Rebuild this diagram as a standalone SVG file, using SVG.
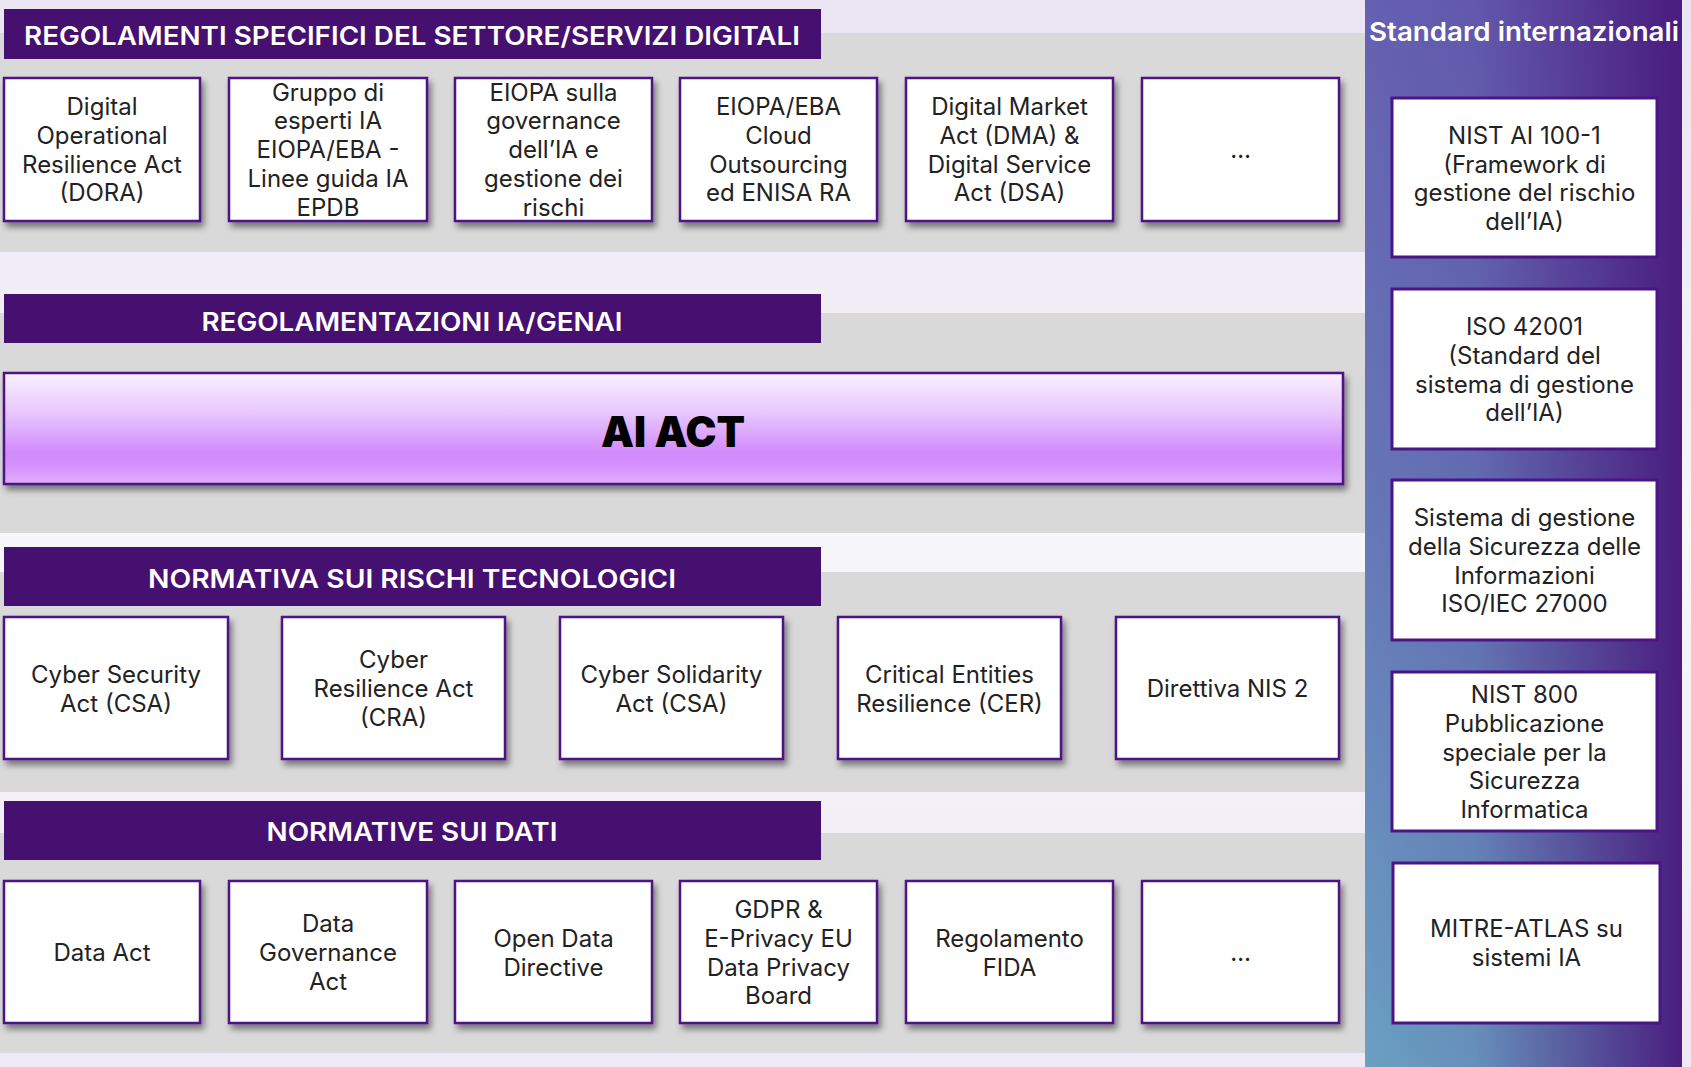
<svg xmlns="http://www.w3.org/2000/svg" width="1691" height="1067" viewBox="0 0 1691 1067">
<defs>
  <linearGradient id="bg" x1="0" y1="0" x2="0" y2="1">
    <stop offset="0" stop-color="#ebe4f3"/>
    <stop offset="0.5" stop-color="#f7f6f9"/>
    <stop offset="1" stop-color="#efe9f5"/>
  </linearGradient>
  <linearGradient id="panelV" x1="0" y1="0" x2="0" y2="1">
    <stop offset="0" stop-color="#6560b2"/>
    <stop offset="0.5" stop-color="#6678b8"/>
    <stop offset="1" stop-color="#6aa0c2"/>
  </linearGradient>
  <linearGradient id="panelH" x1="0" y1="0" x2="1" y2="0">
    <stop offset="0" stop-color="#48187c" stop-opacity="0"/>
    <stop offset="0.35" stop-color="#48187c" stop-opacity="0.12"/>
    <stop offset="1" stop-color="#48187c" stop-opacity="0.95"/>
  </linearGradient>
  <linearGradient id="aiact" x1="0" y1="0" x2="0" y2="1">
    <stop offset="0" stop-color="#faf0ff"/>
    <stop offset="0.35" stop-color="#e8c8fd"/>
    <stop offset="0.72" stop-color="#d28afc"/>
    <stop offset="0.84" stop-color="#d592fc"/>
    <stop offset="1" stop-color="#e2adfd"/>
  </linearGradient>
  <filter id="shadow" x="-10%" y="-10%" width="125%" height="130%">
    <feDropShadow dx="3" dy="5" stdDeviation="3" flood-color="#000" flood-opacity="0.45"/>
  </filter>
  <style>
    .band { fill: #d9d9d9; }
    .hdr { fill: #45106f; }
    .hdrtxt { font-family: Inter, "Liberation Sans", sans-serif; font-weight: 600; font-size: 25px; fill: #ffffff; text-anchor: middle; }
    .box { fill: #ffffff; stroke: #4b1583; stroke-width: 2.5; filter: url(#shadow); }
    .sbox { fill: #ffffff; stroke: #4b1583; stroke-width: 3; }
    .t { font-family: Inter, "Liberation Sans", sans-serif; font-size: 24px; fill: #222222; text-anchor: middle; transform: translateY(1px); }
  </style>
</defs>

<rect x="0" y="0" width="1691" height="1067" fill="url(#bg)"/>

<!-- gray bands -->
<rect class="band" x="0" y="33" width="1365" height="219"/>
<rect class="band" x="0" y="313" width="1365" height="220"/>
<rect class="band" x="0" y="572" width="1365" height="220"/>
<rect class="band" x="0" y="833" width="1365" height="220"/>

<!-- right panel -->
<g id="panel">
  <rect x="1365" y="0" width="317" height="1067" fill="url(#panelV)"/>
  <rect x="1365" y="0" width="317" height="1067" fill="url(#panelH)"/>
  <text x="1369" y="41" font-family="Inter, 'Liberation Sans', sans-serif" font-weight="600" font-size="26" fill="#ffffff" textLength="310" lengthAdjust="spacingAndGlyphs">Standard internazionali</text>
</g>

<!-- headers -->
<g id="hdr1">
  <rect class="hdr" x="4" y="9" width="817" height="50"/>
  <text class="hdrtxt" x="412" y="45" textLength="776" lengthAdjust="spacingAndGlyphs">REGOLAMENTI SPECIFICI DEL SETTORE/SERVIZI DIGITALI</text>
</g>
<g id="hdr2">
  <rect class="hdr" x="4" y="294" width="817" height="49"/>
  <text class="hdrtxt" x="412" y="331" textLength="421" lengthAdjust="spacingAndGlyphs">REGOLAMENTAZIONI IA/GENAI</text>
</g>
<g id="hdr3">
  <rect class="hdr" x="4" y="547" width="817" height="59"/>
  <text class="hdrtxt" x="412" y="588" textLength="528" lengthAdjust="spacingAndGlyphs">NORMATIVA SUI RISCHI TECNOLOGICI</text>
</g>
<g id="hdr4">
  <rect class="hdr" x="4" y="801" width="817" height="59"/>
  <text class="hdrtxt" x="412" y="841" textLength="291" lengthAdjust="spacingAndGlyphs">NORMATIVE SUI DATI</text>
</g>

<!-- row 1 -->
<g id="dora">
  <rect class="box" x="4" y="78" width="196" height="143"/>
  <text class="t" x="102"><tspan x="102" y="114">Digital</tspan><tspan x="102" y="143">Operational</tspan><tspan x="102" y="172">Resilience Act</tspan><tspan x="102" y="200">(DORA)</tspan></text>
</g>
<g id="gruppo">
  <rect class="box" x="229" y="78" width="198" height="143"/>
  <text class="t" x="328"><tspan x="328" y="100">Gruppo di</tspan><tspan x="328" y="128">esperti IA</tspan><tspan x="328" y="157">EIOPA/EBA -</tspan><tspan x="328" y="186">Linee guida IA</tspan><tspan x="328" y="215">EPDB</tspan></text>
</g>
<g id="eiopa">
  <rect class="box" x="455" y="78" width="197" height="143"/>
  <text class="t" x="553.5"><tspan x="553.5" y="100">EIOPA sulla</tspan><tspan x="553.5" y="128">governance</tspan><tspan x="553.5" y="157">dell’IA e</tspan><tspan x="553.5" y="186">gestione dei</tspan><tspan x="553.5" y="215">rischi</tspan></text>
</g>
<g id="cloud">
  <rect class="box" x="680" y="78" width="197" height="143"/>
  <text class="t" x="778.5"><tspan x="778.5" y="114">EIOPA/EBA</tspan><tspan x="778.5" y="143">Cloud</tspan><tspan x="778.5" y="172">Outsourcing</tspan><tspan x="778.5" y="200">ed ENISA RA</tspan></text>
</g>
<g id="dma">
  <rect class="box" x="906" y="78" width="207" height="143"/>
  <text class="t" x="1009.5"><tspan x="1009.5" y="114">Digital Market</tspan><tspan x="1009.5" y="143">Act (DMA) &amp;</tspan><tspan x="1009.5" y="172">Digital Service</tspan><tspan x="1009.5" y="200">Act (DSA)</tspan></text>
</g>
<g id="more1">
  <rect class="box" x="1142" y="78" width="197" height="143"/>
  <text class="t" x="1240.5" y="157">…</text>
</g>

<!-- AI ACT -->
<g id="aiact-node">
  <rect x="4" y="373" width="1339" height="111" fill="url(#aiact)" stroke="#4b1583" stroke-width="2.5" filter="url(#shadow)"/>
  <text x="673" y="447" font-family="Inter, 'Liberation Sans', sans-serif" font-weight="900" font-size="42" fill="#000000" text-anchor="middle" textLength="144" lengthAdjust="spacingAndGlyphs">AI ACT</text>
</g>

<!-- row 3 -->
<g id="csa">
  <rect class="box" x="4" y="617" width="224" height="142"/>
  <text class="t" x="116"><tspan x="116" y="682">Cyber Security</tspan><tspan x="116" y="711">Act (CSA)</tspan></text>
</g>
<g id="cra">
  <rect class="box" x="282" y="617" width="223" height="142"/>
  <text class="t" x="393.5"><tspan x="393.5" y="667">Cyber</tspan><tspan x="393.5" y="696">Resilience Act</tspan><tspan x="393.5" y="725">(CRA)</tspan></text>
</g>
<g id="csolid">
  <rect class="box" x="560" y="617" width="223" height="142"/>
  <text class="t" x="671.5"><tspan x="671.5" y="682">Cyber Solidarity</tspan><tspan x="671.5" y="711">Act (CSA)</tspan></text>
</g>
<g id="cer">
  <rect class="box" x="838" y="617" width="223" height="142"/>
  <text class="t" x="949.5"><tspan x="949.5" y="682">Critical Entities</tspan><tspan x="949.5" y="711">Resilience (CER)</tspan></text>
</g>
<g id="nis2">
  <rect class="box" x="1116" y="617" width="223" height="142"/>
  <text class="t" x="1227.5" y="696">Direttiva NIS 2</text>
</g>

<!-- row 4 -->
<g id="dataact">
  <rect class="box" x="4" y="881" width="196" height="142"/>
  <text class="t" x="102" y="960">Data Act</text>
</g>
<g id="dga">
  <rect class="box" x="229" y="881" width="198" height="142"/>
  <text class="t" x="328"><tspan x="328" y="931">Data</tspan><tspan x="328" y="960">Governance</tspan><tspan x="328" y="989">Act</tspan></text>
</g>
<g id="opendata">
  <rect class="box" x="455" y="881" width="197" height="142"/>
  <text class="t" x="553.5"><tspan x="553.5" y="946">Open Data</tspan><tspan x="553.5" y="975">Directive</tspan></text>
</g>
<g id="gdpr">
  <rect class="box" x="680" y="881" width="197" height="142"/>
  <text class="t" x="778.5"><tspan x="778.5" y="917">GDPR &amp;</tspan><tspan x="778.5" y="946">E-Privacy EU</tspan><tspan x="778.5" y="975">Data Privacy</tspan><tspan x="778.5" y="1003">Board</tspan></text>
</g>
<g id="fida">
  <rect class="box" x="906" y="881" width="207" height="142"/>
  <text class="t" x="1009.5"><tspan x="1009.5" y="946">Regolamento</tspan><tspan x="1009.5" y="975">FIDA</tspan></text>
</g>
<g id="more2">
  <rect class="box" x="1142" y="881" width="197" height="142"/>
  <text class="t" x="1240.5" y="960">…</text>
</g>

<!-- standards -->
<g id="nistai">
  <rect class="sbox" x="1392" y="98" width="265" height="159"/>
  <text class="t" x="1524.5"><tspan x="1524.5" y="143">NIST AI 100-1</tspan><tspan x="1524.5" y="172">(Framework di</tspan><tspan x="1524.5" y="200">gestione del rischio</tspan><tspan x="1524.5" y="229">dell’IA)</tspan></text>
</g>
<g id="iso42001">
  <rect class="sbox" x="1392" y="289" width="265" height="160"/>
  <text class="t" x="1524.5"><tspan x="1524.5" y="334">ISO 42001</tspan><tspan x="1524.5" y="363">(Standard del</tspan><tspan x="1524.5" y="392">sistema di gestione</tspan><tspan x="1524.5" y="420">dell’IA)</tspan></text>
</g>
<g id="iso27000">
  <rect class="sbox" x="1392" y="480" width="265" height="160"/>
  <text class="t" x="1524.5"><tspan x="1524.5" y="525">Sistema di gestione</tspan><tspan x="1524.5" y="554">della Sicurezza delle</tspan><tspan x="1524.5" y="583">Informazioni</tspan><tspan x="1524.5" y="611">ISO/IEC 27000</tspan></text>
</g>
<g id="nist800">
  <rect class="sbox" x="1392" y="672" width="265" height="159"/>
  <text class="t" x="1524.5"><tspan x="1524.5" y="702">NIST 800</tspan><tspan x="1524.5" y="731">Pubblicazione</tspan><tspan x="1524.5" y="760">speciale per la</tspan><tspan x="1524.5" y="788">Sicurezza</tspan><tspan x="1524.5" y="817">Informatica</tspan></text>
</g>
<g id="mitre">
  <rect class="sbox" x="1393" y="863" width="267" height="160"/>
  <text class="t" x="1526.5"><tspan x="1526.5" y="936">MITRE-ATLAS su</tspan><tspan x="1526.5" y="965">sistemi IA</tspan></text>
</g>

<g id="connectors"></g>
</svg>
